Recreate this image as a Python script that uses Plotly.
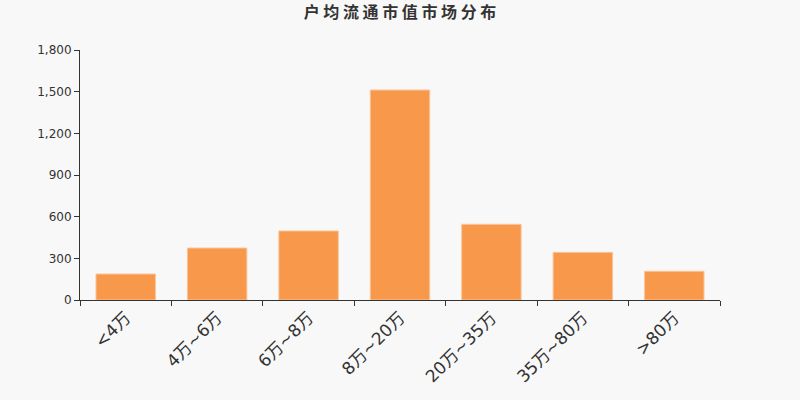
import plotly.graph_objects as go

categories = ["<4万", "4万~6万", "6万~8万", "8万~20万", "20万~35万", "35万~80万", ">80万"]
values = [187, 374, 497, 1512, 545, 343, 207]
y_ticks = [0, 300, 600, 900, 1200, 1500, 1800]
y_tick_labels = ["0", "300", "600", "900", "1,200", "1,500", "1,800"]

fig = go.Figure(go.Bar(
    x=categories,
    y=values,
    width=0.65,
    marker=dict(color="#F7984A", line=dict(color="#FAC49A", width=1)),
    hoverinfo="x+y",
))

fig.update_layout(
    width=800, height=400,
    margin=dict(l=80, r=80, t=50, b=100),
    paper_bgcolor="#F8F8F8",
    plot_bgcolor="#F8F8F8",
    font=dict(family="DejaVu Sans, Noto Sans CJK SC", color="#333333"),
    title=dict(text="<b>户 均 流 通 市 值 市 场 分 布</b>", x=0.5, xanchor="center",
               y=0.968, yanchor="middle",
               font=dict(size=16, color="#333333", family="Noto Sans CJK SC")),
    showlegend=False,
    bargap=0.35,
)

fig.update_xaxes(
    type="category",
    showline=True, linecolor="#333333", linewidth=1,
    ticks="outside", ticklen=5, tickcolor="#333333",
    tickson="boundaries",
    tickangle=-45,
    tickfont=dict(size=17, color="#333333"),
    showgrid=False,
)

fig.update_yaxes(
    range=[0, 1800],
    tickvals=y_ticks, ticktext=y_tick_labels,
    showline=True, linecolor="#333333", linewidth=1,
    ticks="outside", ticklen=5, tickcolor="#333333",
    tickfont=dict(size=12, color="#333333"),
    showgrid=False, zeroline=False,
)

# drop the default page margin so the chart sits at the window corner
fig.write_html("out.html", config={"displayModeBar": False},
               post_script="document.body.style.margin='0';")
